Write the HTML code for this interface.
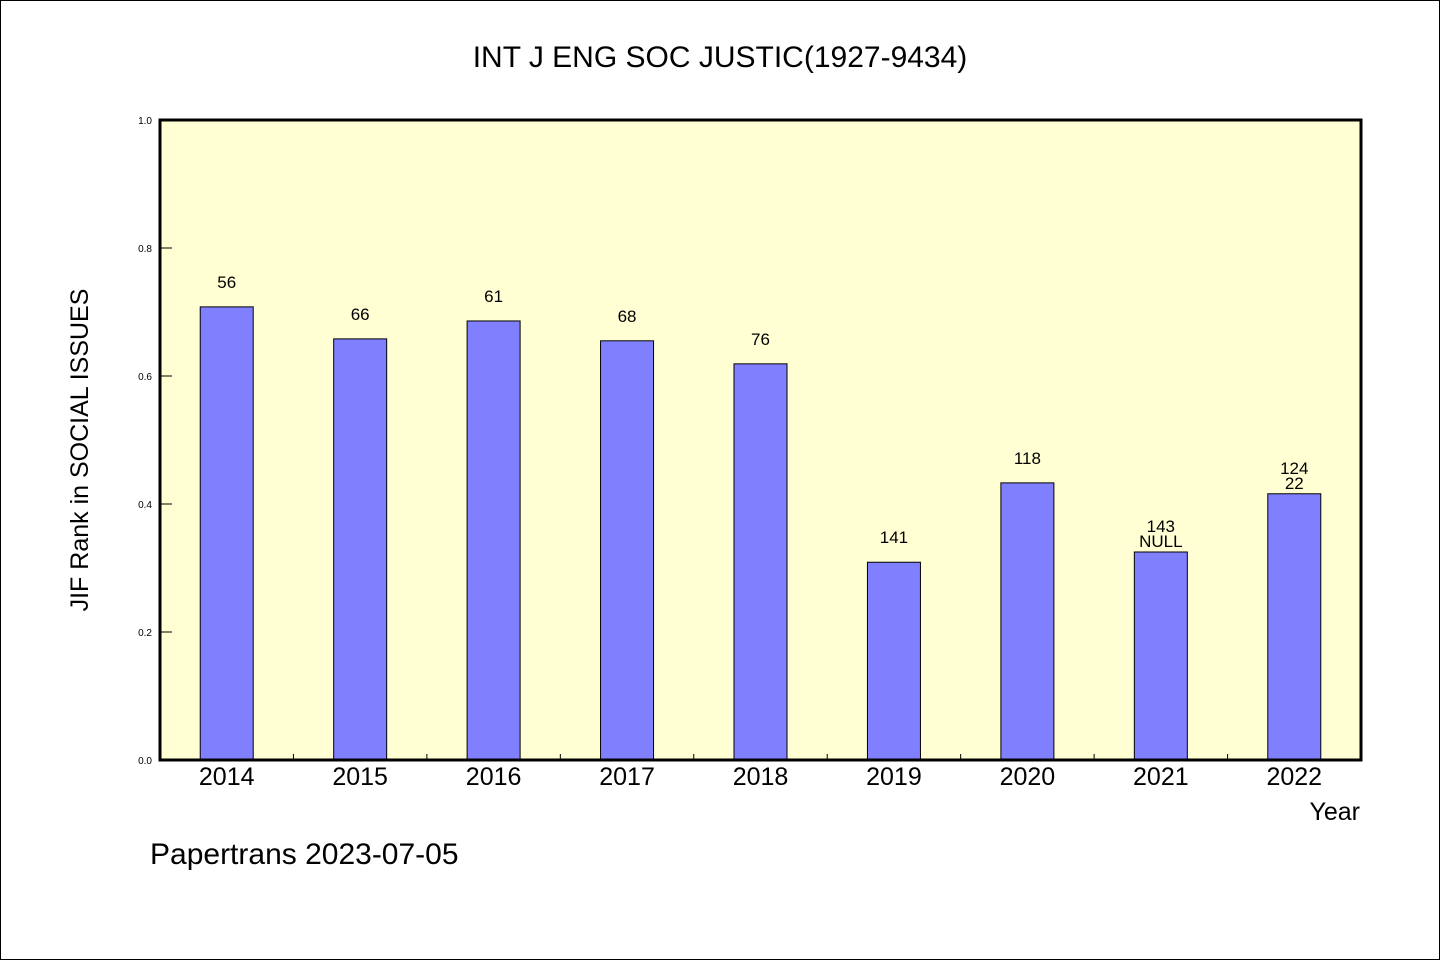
<!DOCTYPE html>
<html><head><meta charset="utf-8"><style>
body{margin:0;background:#fff}
svg{display:block}
text{font-family:"WenQuanYi Zen Hei","Liberation Sans",sans-serif;fill:#000}
</style></head><body>
<svg id="chart" width="1440" height="960" xmlns="http://www.w3.org/2000/svg">
<rect x="0.5" y="0.5" width="1439" height="959" fill="#fff" stroke="#000"/>
<text x="720" y="67" font-size="30" text-anchor="middle">INT J ENG SOC JUSTIC(1927-9434)</text>
<rect x="160" y="120" width="1201" height="640" fill="#ffffd3"/>
<g id="bars"></g>
<g id="yticks"></g>
<g id="xticks"></g>
<rect x="160" y="120" width="1201" height="640" fill="none" stroke="#000" stroke-width="3"/>
<text transform="translate(88,450) rotate(-90)" font-size="25" text-anchor="middle">JIF Rank in SOCIAL ISSUES</text>
<text x="1360" y="820" font-size="25" text-anchor="end">Year</text>
<text x="150" y="864" font-size="30">Papertrans 2023-07-05</text>
</svg>
<script>
const categories=["2014","2015","2016","2017","2018","2019","2020","2021","2022"];
const values=[0.708,0.658,0.686,0.655,0.619,0.309,0.433,0.325,0.416];
const labelsTop=["56","66","61","68","76","141","118","143","124"];
const labelsSecond=["","","","","","","","NULL","22"];
const yTicks=[0,0.2,0.4,0.6,0.8,1.0];
const yTickLabels=["0.0","0.2","0.4","0.6","0.8","1.0"];
const NS="http://www.w3.org/2000/svg";
const X0=160,W=1201,Y0=760,H=640;
const step=W/categories.length;
const xC=i=>X0+step*(i+0.5);
const yS=v=>Y0-v*H;
function mk(tag,attrs,parent,txt){const e=document.createElementNS(NS,tag);for(const k in attrs)e.setAttribute(k,attrs[k]);if(txt!==undefined)e.textContent=txt;parent.appendChild(e);return e;}
const gb=document.getElementById('bars'),gy=document.getElementById('yticks'),gx=document.getElementById('xticks');
const bw=53;
categories.forEach((c,i)=>{
  const y=yS(values[i]);
  const r=mk('rect',{x:xC(i)-bw/2,y:y,width:bw,height:Y0-y,fill:'#8080ff',stroke:'#000','stroke-width':1},gb);
  
  
  if(labelsSecond[i]){
    const t1=mk('text',{x:xC(i),y:y-20,'font-size':17,'text-anchor':'middle'},gb,labelsTop[i]);
    
    
    const t2=mk('text',{x:xC(i),y:y-5,'font-size':17,'text-anchor':'middle'},gb,labelsSecond[i]);
    
    
  }else{
    const t=mk('text',{x:xC(i),y:y-19,'font-size':17,'text-anchor':'middle'},gb,labelsTop[i]);
    
    
  }
  const xl=mk('text',{x:xC(i),y:785,'font-size':25,'text-anchor':'middle'},gx,c);
  
  
  if(i>0){
    const tk=mk('line',{x1:X0+step*i,x2:X0+step*i,y1:Y0,y2:Y0-6,stroke:'#000','stroke-width':1},gx);
    
    
  }
});
yTicks.forEach((v,i)=>{
  const y=yS(v);
  const l=mk('line',{x1:X0,x2:X0+12,y1:y,y2:y,stroke:'#000','stroke-width':1},gy);
  
  
  const t=mk('text',{x:152,y:y+4,'font-size':10,'text-anchor':'end'},gy,yTickLabels[i]);
  
  
});
</script>
</body></html>
